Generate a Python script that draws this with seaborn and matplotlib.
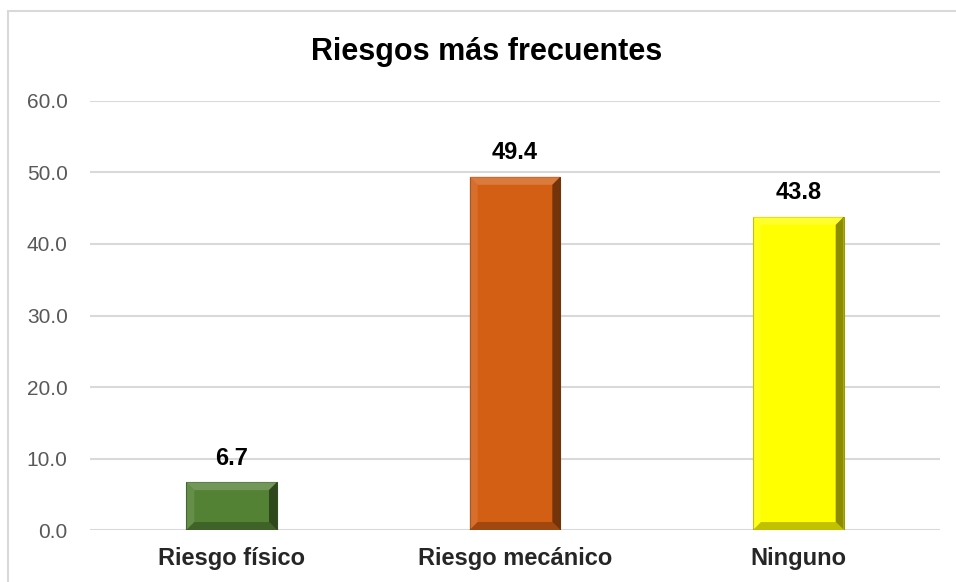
import numpy as np
import pandas as pd
import matplotlib
matplotlib.use("Agg")
import matplotlib.pyplot as plt
import seaborn as sns
from matplotlib.patches import Polygon, Rectangle
from matplotlib.colors import to_rgb

# Data
categories = ["Riesgo físico", "Riesgo mecánico", "Ninguno"]
values = [6.7, 49.4, 43.8]
bar_colors = ["#548235", "#D35F14", "#FFFF00"]
y_ticks = [0, 10, 20, 30, 40, 50, 60]

df = pd.DataFrame({"cat": categories, "val": values})

sns.set_style("white")
plt.rcParams['font.family'] = ['Liberation Sans', 'DejaVu Sans']

fig = plt.figure(figsize=(9.56, 5.82), dpi=100)
ax = fig.add_axes([0.0941, 0.0893, 0.8892, 0.7372])

sns.barplot(data=df, x="cat", y="val", hue="cat", palette=bar_colors,
            width=0.32, legend=False, ax=ax, saturation=1, zorder=3)

ax.set_ylim(0, 60)
ax.set_xlim(-0.5, 2.5)
ax.set_yticks(y_ticks)
ax.set_yticklabels([f"{t:.1f}" for t in y_ticks], color="#595959", fontsize=15)
ax.set_xlabel("")
ax.set_ylabel("")
ax.yaxis.grid(True, color="#D9D9D9", linewidth=1.5, zorder=0)
ax.tick_params(axis="y", length=0, pad=16)
ax.tick_params(axis="x", length=0, pad=12)
for lab in ax.get_xticklabels():
    lab.set_fontweight("bold")
    lab.set_fontsize(17)
for s in ax.spines.values():
    s.set_visible(False)

# soft bevel look derived from each bar patch
fig.canvas.draw()
inv = ax.transData.inverted()
for patch, c in zip(ax.patches, bar_colors):
    patch.set_edgecolor(tuple(np.array(to_rgb(c)) * 0.6))
    patch.set_linewidth(0.8)
    x0, y0 = patch.get_x(), patch.get_y()
    x1, y1 = x0 + patch.get_width(), y0 + patch.get_height()
    p0 = ax.transData.transform((0, 0))
    p1 = inv.transform((p0[0] + 8, p0[1] + 8))
    dx, dy = p1[0], p1[1]
    base = np.array(to_rgb(c))
    light = tuple(np.clip(base + (1 - base) * 0.25, 0, 1))
    dark = tuple(base * 0.4)
    mid_dark = tuple(base * 0.6)
    faces = [
        ([(x0, y1), (x1, y1), (x1 - dx, y1 - dy), (x0 + dx, y1 - dy)], light, 0.7),
        ([(x0, y0), (x0, y1), (x0 + dx, y1 - dy), (x0 + dx, y0 + dy)], light, 0.4),
        ([(x1, y0), (x1, y1), (x1 - dx, y1 - dy), (x1 - dx, y0 + dy)], dark, 0.75),
        ([(x0, y0), (x1, y0), (x1 - dx, y0 + dy), (x0 + dx, y0 + dy)], mid_dark, 0.6),
    ]
    for pts, fc, a in faces:
        ax.add_patch(Polygon(pts, closed=True, facecolor=fc, edgecolor="none",
                             alpha=a, zorder=4))

for i, v in enumerate(values):
    ax.annotate(f"{v:.1f}", (i, v), xytext=(0, 9), textcoords="offset points",
                ha="center", va="bottom", fontsize=17, fontweight="bold", color="black")

fig.text(0.509, 0.911, "Riesgos más frecuentes", ha="center", va="center",
         fontsize=22, fontweight="bold", color="black")

# outer chart border
fig.patches.append(Rectangle((8 / 956, -0.1), 1.2, (571 - -58) / 582, transform=fig.transFigure,
                             fill=False, edgecolor="#D9D9D9", linewidth=1.5))

fig.savefig("out.png", dpi=100)
